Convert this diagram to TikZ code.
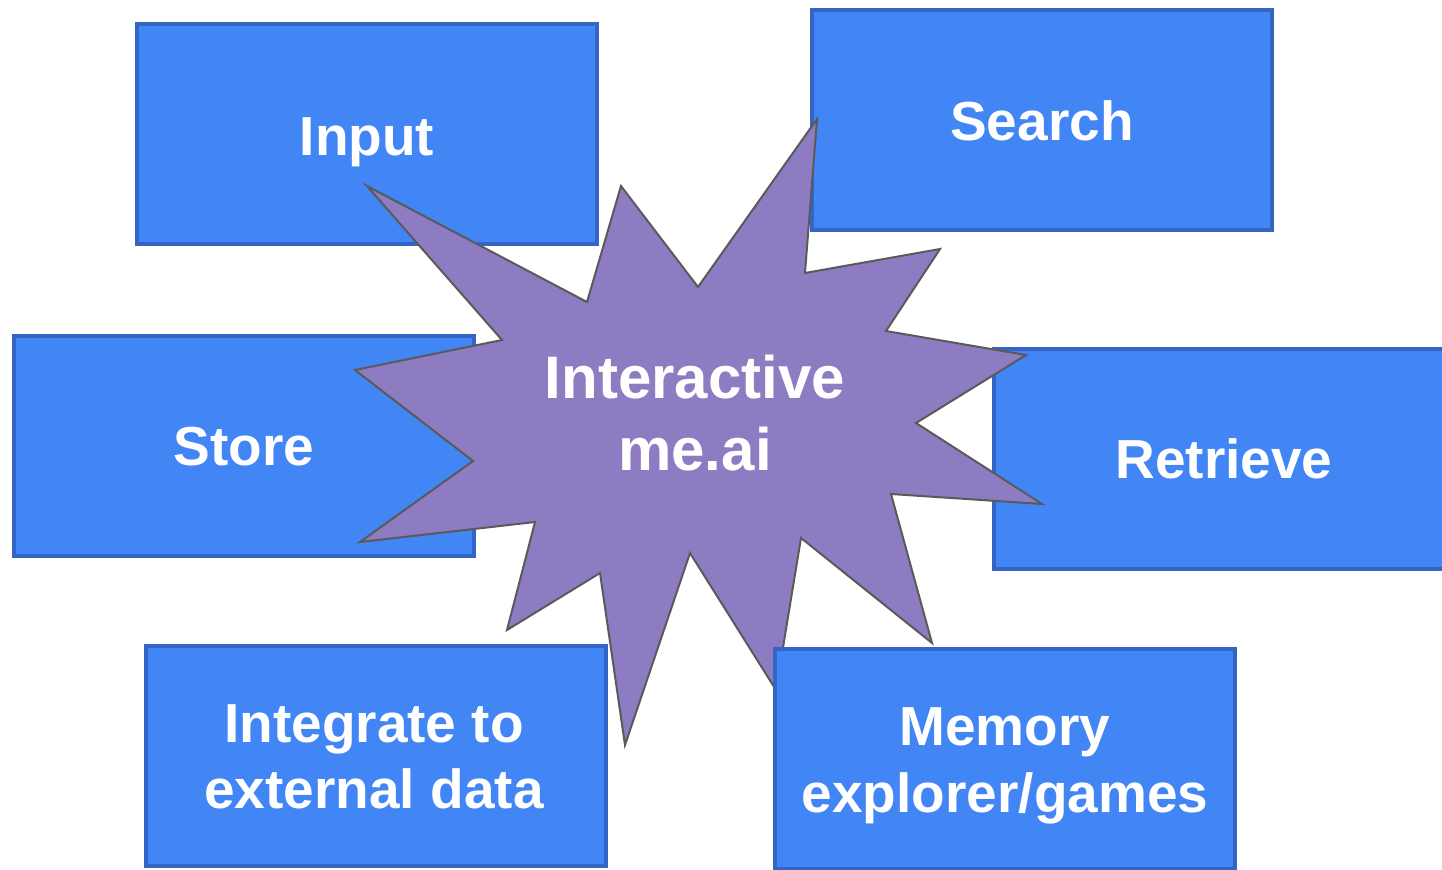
\documentclass[tikz,border=0pt]{standalone}
\usepackage{fontspec}
\setmainfont{Liberation Sans}
\definecolor{boxfill}{HTML}{4285F4}
\definecolor{boxline}{HTML}{3465C4}
\definecolor{starfill}{HTML}{8E7CC3}
\definecolor{starline}{HTML}{5A5A5A}
\begin{document}
\begin{tikzpicture}[x=0.5pt,y=-0.5pt,
  topic/.style={draw=boxline,fill=boxfill,line width=2pt,minimum width=230pt,minimum height=110pt,inner sep=0pt},
  lbl/.style={text=white,font=\bfseries\fontsize{27.5pt}{33pt}\selectfont,anchor=base,inner sep=0pt},
  hub/.style={text=white,font=\bfseries\fontsize{30pt}{36pt}\selectfont,anchor=base,inner sep=0pt},
  burst/.style={draw=starline,fill=starfill,line width=1pt,line join=miter}]
\useasboundingbox (0,0) rectangle (1442,869);
% boxes under the star
\node[topic] (input) at (366.5,134) {};
\node[topic] (search) at (1042,120) {};
\node[topic] (store) at (244,445.5) {};
\node[topic] (retrieve) at (1224,459) {};
\node[topic] (integrate) at (375.5,756) {};
% star
\draw[burst] (367,186) -- (587,302) -- (621,186) -- (698,287) -- (817,119) -- (805,273)
  -- (940,249) -- (886,331) -- (1026,355) -- (916,423) -- (1042,504) -- (891,494)
  -- (932,643) -- (801,538) -- (776,690) -- (690,553) -- (625,745) -- (600,573)
  -- (507,630) -- (535,522) -- (360,542) -- (473,461) -- (355,370) -- (502,340) -- cycle;
% box over the star
\node[topic] (memory) at (1005,759) {};
% texts
\node[hub] (hub1) at (695,398) {Interactive};
\node[hub] (hub2) at (695,470) {me.ai};
\node[lbl] (tinput) at (367,155) {Input};
\node[lbl] (tsearch) at (1042,140) {Search};
\node[lbl] (tstore) at (244,465) {Store};
\node[lbl] (tretrieve) at (1224,478) {Retrieve};
\node[lbl] (tint1) at (374,742) {Integrate to};
\node[lbl] (tint2) at (374,808) {external data};
\node[lbl] (tmem1) at (1005,745) {Memory};
\node[lbl] (tmem2) at (1005,812) {explorer/games};
\end{tikzpicture}
\end{document}
